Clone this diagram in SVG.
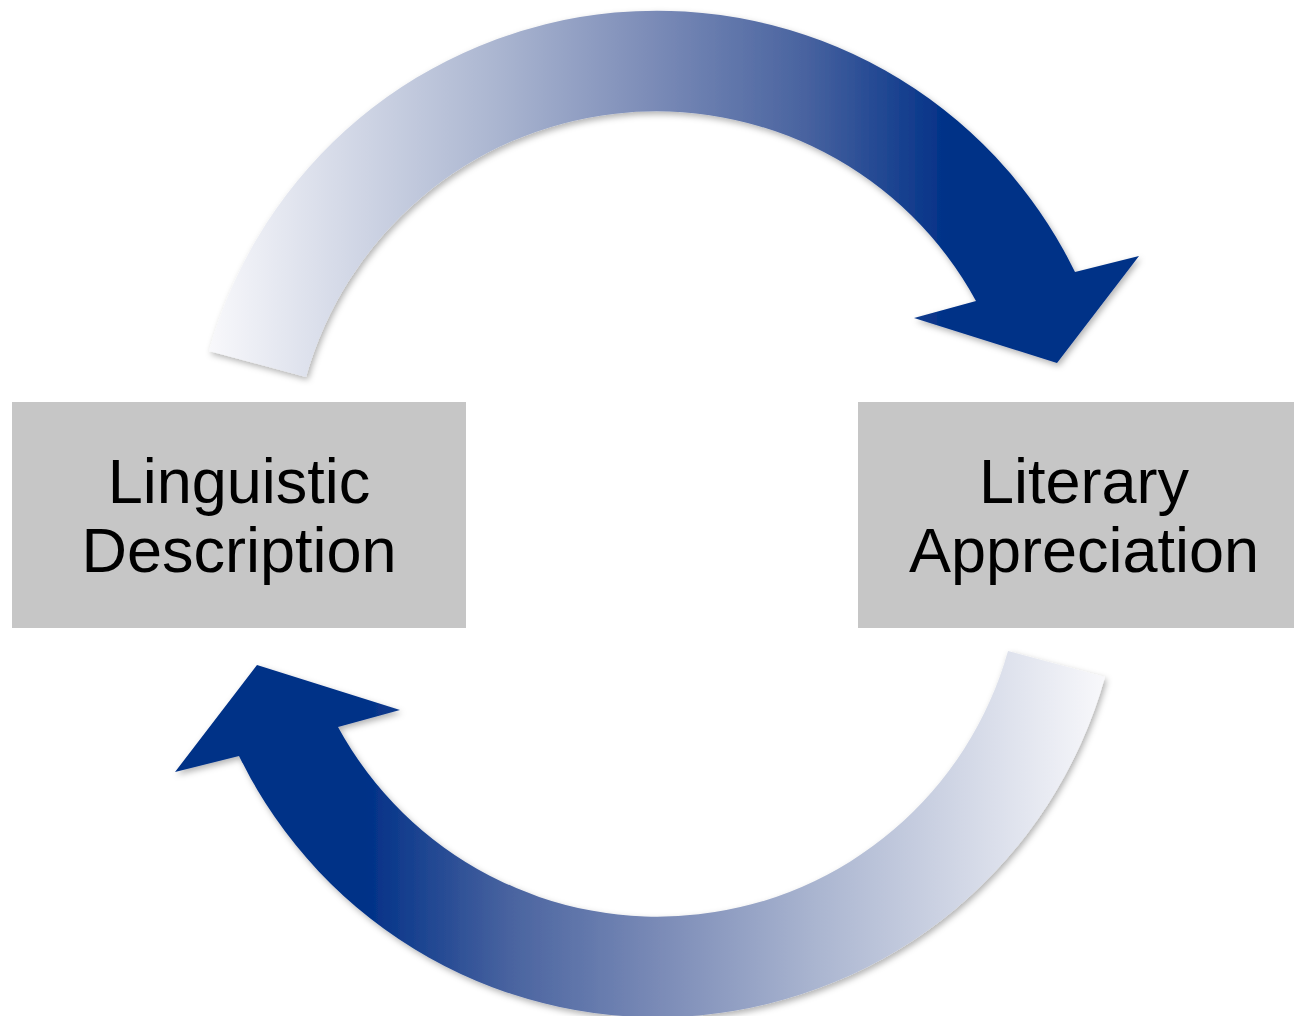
<svg xmlns="http://www.w3.org/2000/svg" width="1294" height="1016" viewBox="0 0 1294 1016">
  <style>
    .box { fill: #c6c6c6; }
    .label { font-family: "Liberation Sans", Arial, sans-serif; font-size: 63px; fill: #000; text-anchor: middle; }
  </style>
  <defs>
    <linearGradient id="arrowGrad" gradientUnits="userSpaceOnUse" x1="210" y1="0" x2="950" y2="0">
      <stop offset="0" stop-color="#f8f8fb"/>
      <stop offset="0.39" stop-color="#aab5d0"/>
      <stop offset="0.59" stop-color="#7d8db8"/>
      <stop offset="0.80" stop-color="#4a64a0"/>
      <stop offset="1" stop-color="#003087"/>
    </linearGradient>
    <filter id="shadow" x="-10%" y="-10%" width="120%" height="120%">
      <feDropShadow dx="2" dy="3" stdDeviation="3" flood-color="#000" flood-opacity="0.3"/>
    </filter>
    <path id="curvedArrow" d="M 209,351 A 465 465 0 0 1 1075,272 L 1139,256 L 1057,363 L 914,318 L 976,301 A 364 364 0 0 0 306,377 Z"/>
  </defs>

  <g id="connectors">
    <g id="arrow-top" filter="url(#shadow)">
      <use href="#curvedArrow" fill="url(#arrowGrad)"/>
    </g>
    <g id="arrow-bottom" filter="url(#shadow)">
      <use href="#curvedArrow" fill="url(#arrowGrad)" transform="rotate(180 657 514)"/>
    </g>
  </g>

  <g id="node-linguistic">
    <rect class="box" x="12" y="402" width="454" height="226"/>
    <text class="label" x="239" y="503">Linguistic</text>
    <text class="label" x="239" y="572">Description</text>
  </g>

  <g id="node-literary">
    <rect class="box" x="858" y="402" width="454" height="226"/>
    <text class="label" x="1084" y="503">Literary</text>
    <text class="label" x="1084" y="572">Appreciation</text>
  </g>
</svg>
